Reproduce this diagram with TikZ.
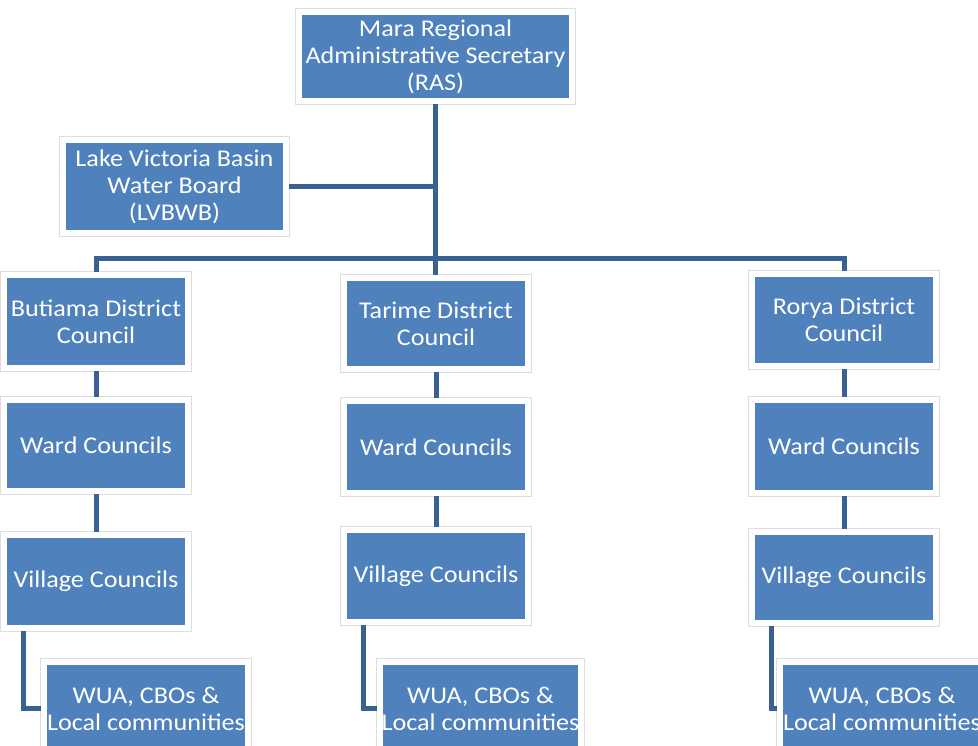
\documentclass[tikz,border=0pt]{standalone}
\usepackage{fontspec}
\setmainfont{Carlito}[FakeStretch=1.09]
\usetikzlibrary{calc}
\definecolor{boxblue}{HTML}{4F81BD}
\definecolor{linkblue}{HTML}{3A6194}
\tikzset{
  orgbox/.style={rectangle, fill=boxblue, draw=white, line width=6pt, inner sep=0pt,
    text=white, align=center, font=\fontsize{24}{27}\selectfont,
    preaction={draw=black!13, line width=8pt}},
  conn/.style={draw=linkblue, line width=5pt, line join=miter},
}
\begin{document}
\begin{tikzpicture}[x=1pt,y=-1pt]
\useasboundingbox (0,0) rectangle (978,745);
\clip (0,0) rectangle (978,745);
% top
\node[orgbox, minimum width=273pt, minimum height=89pt] (ras) at (435.5,56.5) {Mara Regional\\Administrative Secretary\\(RAS)};
\node[orgbox, minimum width=223pt, minimum height=93pt] (lv) at (174.5,186.5) {Lake Victoria Basin\\Water Board\\(LVBWB)};
% districts
\node[orgbox, minimum width=184pt, minimum height=93pt] (bD) at (96,321.5) {Butiama District\\Council};
\node[orgbox, minimum width=184pt, minimum height=91pt] (tD) at (436,323.5) {Tarime District\\Council};
\node[orgbox, minimum width=184pt, minimum height=92pt] (rD) at (844,320) {Rorya District\\Council};
% wards
\node[orgbox, minimum width=184pt, minimum height=91pt] (bW) at (96,445.5) {Ward Councils};
\node[orgbox, minimum width=184pt, minimum height=92pt] (tW) at (436,447) {Ward Councils};
\node[orgbox, minimum width=184pt, minimum height=93pt] (rW) at (844,446.5) {Ward Councils};
% villages
\node[orgbox, minimum width=184pt, minimum height=93pt] (bV) at (96,581.5) {Village Councils};
\node[orgbox, minimum width=184pt, minimum height=92pt] (tV) at (436,576) {Village Councils};
\node[orgbox, minimum width=184pt, minimum height=91pt] (rV) at (844,577.5) {Village Councils};
% WUA
\node[orgbox, minimum width=204pt, minimum height=93pt] (bU) at (146,708.5) {WUA, CBOs \&\\Local communities};
\node[orgbox, minimum width=201pt, minimum height=93pt] (tU) at (480.5,708.5) {WUA, CBOs \&\\Local communities};
\node[orgbox, minimum width=204pt, minimum height=93pt] (rU) at (882,708.5) {WUA, CBOs \&\\Local communities};
% connectors
\coordinate (bus) at (436,258);
\draw[conn] (ras.south) -- (ras.south |- tD.north);
\draw[conn] (lv.east) -- (lv.east -| ras.south);
\draw[conn] (bD.north) |- (bus) -| (rD.north);
\draw[conn] (bD) -- (bW);
\draw[conn] (bW) -- (bV);
\draw[conn] (tD) -- (tW);
\draw[conn] (tW) -- (tV);
\draw[conn] (rD) -- (rW);
\draw[conn] (rW) -- (rV);
\draw[conn] ($(bV.south west)+(22,0)$) |- (bU.west);
\draw[conn] ($(tV.south west)+(22,0)$) |- (tU.west);
\draw[conn] ($(rV.south west)+(22,0)$) |- (rU.west);
\end{tikzpicture}
\end{document}
